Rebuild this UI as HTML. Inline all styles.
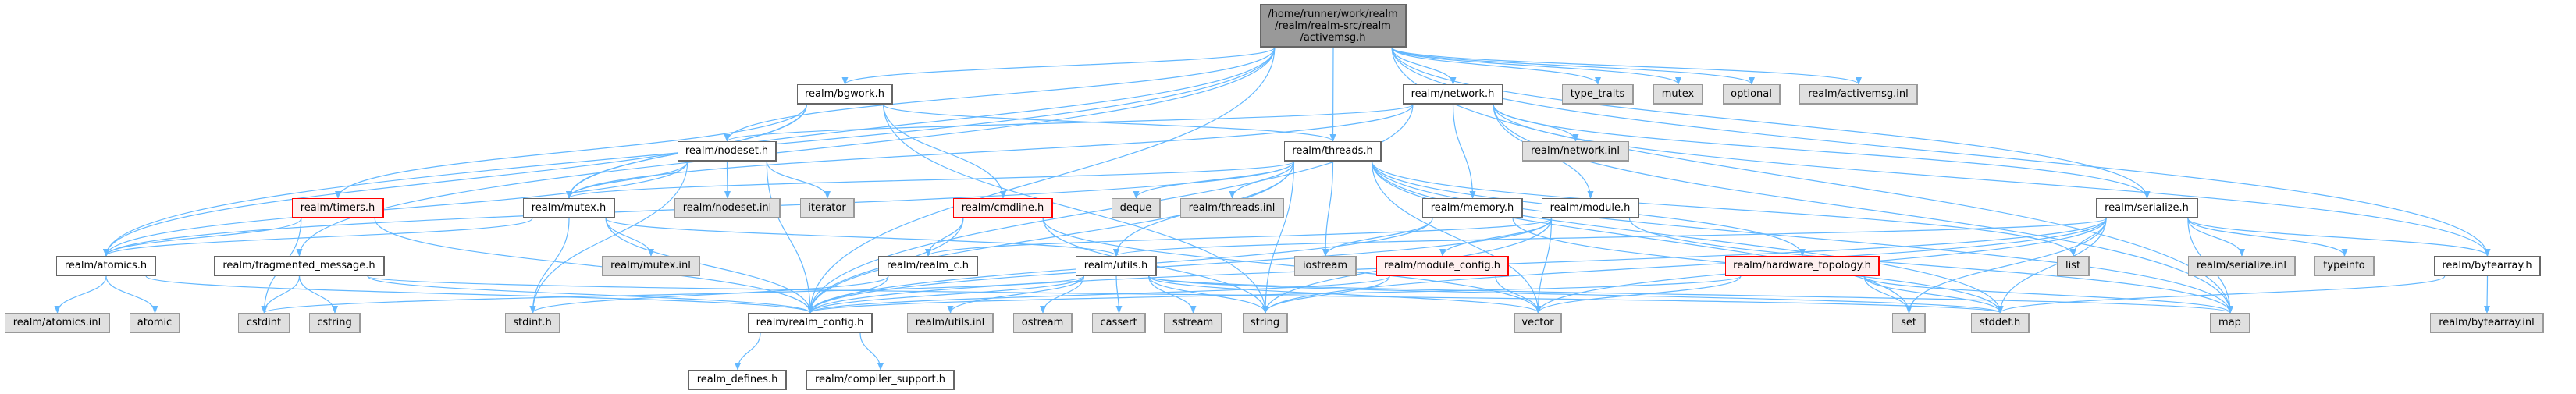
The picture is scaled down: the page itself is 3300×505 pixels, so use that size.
<!DOCTYPE html>
<html><head><meta charset="utf-8">
<style>
html,body{margin:0;padding:0;background:#fff;}
#wrap{position:relative;width:3300px;height:505px;overflow:hidden;}
svg{position:absolute;left:0;top:0;}
.n{position:absolute;box-sizing:border-box;border:1px solid #999;border-bottom:2px solid #999;border-right:2px solid #999;background:#e0e0e0;color:#000;font-family:"DejaVu Sans","Liberation Sans",sans-serif;font-size:13px;height:26px;line-height:24px;text-align:center;white-space:nowrap;}
.w{background:#fff;border-color:#666;}
.r{background:#fff0f0;border-color:#f00;}
</style></head><body><div id="wrap">
<svg id="s" width="3300" height="505" xmlns="http://www.w3.org/2000/svg">
<defs><marker id="a" markerWidth="10" markerHeight="8" refX="9" refY="4" orient="auto" markerUnits="userSpaceOnUse"><path d="M0,0 L10,4 L0,8 z" fill="#63b8ff"/></marker></defs>
<g id="e" fill="none" stroke="#63b8ff" stroke-width="1.2"></g>
</svg>
<div class="n" id="root" style="left:1614px;top:5px;width:188px;height:56px;line-height:15px;padding-top:5px;background:#999;border-color:#666;">/home/runner/work/realm<br>/realm/realm-src/realm<br>/activemsg.h</div>

<div class="n w" id="bgwork" style="left:1021px;top:108px;width:123px">realm/bgwork.h</div>
<div class="n w" id="network" style="left:1797px;top:108px;width:129px">realm/network.h</div>
<div class="n" id="type_traits" style="left:2001px;top:108px;width:92px">type_traits</div>
<div class="n" id="mutex" style="left:2118px;top:108px;width:64px">mutex</div>
<div class="n" id="optional" style="left:2207px;top:108px;width:74px">optional</div>
<div class="n" id="amsginl" style="left:2305px;top:108px;width:152px">realm/activemsg.inl</div>

<div class="n w" id="nodeset" style="left:868px;top:181px;width:127px">realm/nodeset.h</div>
<div class="n w" id="threads" style="left:1645px;top:181px;width:125px">realm/threads.h</div>
<div class="n" id="netinl" style="left:1950px;top:181px;width:137px">realm/network.inl</div>

<div class="n r" id="timers" style="left:374px;top:254px;width:118px">realm/timers.h</div>
<div class="n w" id="mutexh" style="left:670px;top:254px;width:118px">realm/mutex.h</div>
<div class="n" id="nodesetinl" style="left:864px;top:254px;width:136px">realm/nodeset.inl</div>
<div class="n" id="iterator" style="left:1025px;top:254px;width:70px">iterator</div>
<div class="n r" id="cmdline" style="left:1221px;top:254px;width:128px">realm/cmdline.h</div>
<div class="n" id="deque" style="left:1424px;top:254px;width:63px">deque</div>
<div class="n" id="threadsinl" style="left:1512px;top:254px;width:133px">realm/threads.inl</div>
<div class="n w" id="memory" style="left:1822px;top:254px;width:129px">realm/memory.h</div>
<div class="n w" id="module" style="left:1975px;top:254px;width:125px">realm/module.h</div>
<div class="n w" id="serialize" style="left:2685px;top:254px;width:131px">realm/serialize.h</div>

<div class="n w" id="atomics" style="left:72px;top:328px;width:128px">realm/atomics.h</div>
<div class="n w" id="frag" style="left:274px;top:328px;width:219px">realm/fragmented_message.h</div>
<div class="n" id="mutexinl" style="left:771px;top:328px;width:126px">realm/mutex.inl</div>
<div class="n w" id="realmc" style="left:1125px;top:328px;width:128px">realm/realm_c.h</div>
<div class="n w" id="utils" style="left:1378px;top:328px;width:104px">realm/utils.h</div>
<div class="n" id="iostream" style="left:1658px;top:328px;width:80px">iostream</div>
<div class="n r" id="modcfg" style="left:1763px;top:328px;width:170px">realm/module_config.h</div>
<div class="n r" id="hwtopo" style="left:2210px;top:328px;width:198px">realm/hardware_topology.h</div>
<div class="n" id="list" style="left:2635px;top:328px;width:42px">list</div>
<div class="n" id="serinl" style="left:2803px;top:328px;width:138px">realm/serialize.inl</div>
<div class="n" id="typeinfo" style="left:2965px;top:328px;width:77px">typeinfo</div>
<div class="n w" id="bytearray" style="left:3118px;top:328px;width:137px">realm/bytearray.h</div>

<div class="n" id="atomicsinl" style="left:6px;top:401px;width:135px">realm/atomics.inl</div>
<div class="n" id="atomic" style="left:166px;top:401px;width:65px">atomic</div>
<div class="n" id="cstdint" style="left:305px;top:401px;width:67px">cstdint</div>
<div class="n" id="cstring" style="left:396px;top:401px;width:66px">cstring</div>
<div class="n" id="stdinth" style="left:647px;top:401px;width:71px">stdint.h</div>
<div class="n w" id="config" style="left:958px;top:401px;width:160px">realm/realm_config.h</div>
<div class="n" id="utilsinl" style="left:1162px;top:401px;width:111px">realm/utils.inl</div>
<div class="n" id="ostream" style="left:1298px;top:401px;width:76px">ostream</div>
<div class="n" id="cassert" style="left:1399px;top:401px;width:69px">cassert</div>
<div class="n" id="sstream" style="left:1491px;top:401px;width:75px">sstream</div>
<div class="n" id="string" style="left:1592px;top:401px;width:58px">string</div>
<div class="n" id="vector" style="left:1940px;top:401px;width:61px">vector</div>
<div class="n" id="set" style="left:2424px;top:401px;width:43px">set</div>
<div class="n" id="stddef" style="left:2525px;top:401px;width:75px">stddef.h</div>
<div class="n" id="map" style="left:2831px;top:401px;width:52px">map</div>
<div class="n" id="bytearrayinl" style="left:3113px;top:401px;width:146px">realm/bytearray.inl</div>

<div class="n w" id="defines" style="left:882px;top:474px;width:126px">realm_defines.h</div>
<div class="n w" id="compiler" style="left:1033px;top:474px;width:190px">realm/compiler_support.h</div>
</div>
<script>
var E={
root:["atomics","frag","config","mutexh","nodeset","bgwork","threads","network","type_traits","mutex","optional","amsginl","serialize","bytearray","map"],
bgwork:["atomics","mutexh","timers","cmdline","threads","string"],
network:["nodeset","config","memory","module","netinl","serialize","bytearray","map","mutexh"],
nodeset:["mutexh","nodesetinl","iterator","config","stdinth","atomics"],
threads:["atomics","mutexh","config","utils","deque","threadsinl","iostream","string","hwtopo","list","set","stddef","map","vector"],
timers:["atomics","cstdint","config"],
mutexh:["atomics","mutexinl","stdinth","config","utils"],
cmdline:["realmc","config","string","vector"],
memory:["config","iostream","stddef"],
module:["config","modcfg","vector","string","map","realmc"],
serialize:["list","serinl","typeinfo","bytearray","map","stddef","set","vector","string","utils","config"],
atomics:["atomicsinl","atomic","config"],
frag:["cstdint","cstring","config","stddef"],
realmc:["config","stdinth"],
utils:["config","utilsinl","ostream","cassert","sstream","string","vector","map","cstdint","stddef"],
modcfg:["config","string","vector"],
hwtopo:["set","stddef","map","vector","config"],
bytearray:["bytearrayinl","stddef"],
config:["defines","compiler"]
};
function box(id){var d=document.getElementById(id);return {x:d.offsetLeft,y:d.offsetTop,w:d.offsetWidth,h:d.offsetHeight};}
var g=document.getElementById("e"),out="";
for(var s in E){var a=box(s);E[s].forEach(function(t){var b=box(t);
var sx=a.x+a.w/2,sy=a.y+a.h,tx=b.x+b.w/2,ty=b.y;
var dx=tx-sx;
if(Math.abs(dx)>a.w/2){sx=a.x+a.w/2+Math.sign(dx)*a.w*0.4;}
var dy=ty-sy;
out+='<path marker-end="url(#a)" d="M'+sx+','+sy+' C'+sx+','+(sy+dy*0.5)+' '+tx+','+(ty-dy*0.5)+' '+tx+','+ty+'"/>';});}
g.innerHTML=out;
</script>
</body></html>
